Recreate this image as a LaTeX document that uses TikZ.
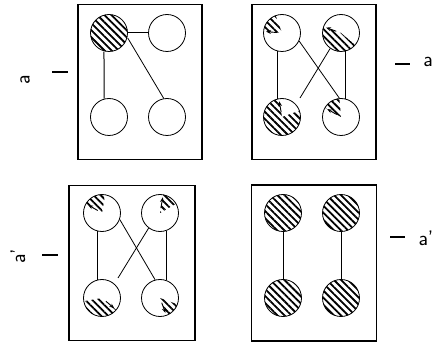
\documentclass[tikz,border=0pt]{standalone}
\usepackage{tikz}
\usetikzlibrary{
  arrows.meta,
  patterns.meta,
  positioning
}
\tikzset{
  pane/.style={draw, line width=1.6pt},
  disc/.style={draw, circle, minimum size=37pt, inner sep=0pt, line width=0.8pt},
  hatched/.style={disc, pattern={Lines[angle=-45, distance=5pt, line width=1.8pt]}},
  parthatch/.style 2 args={disc, path picture={
      \fill[pattern={Lines[angle=-45, distance=5pt, line width=1.8pt]}]
        (path picture bounding box.center) -- ++(#1:20pt)
        arc[start angle=#1, end angle=#2, radius=20pt] -- cycle;
      \draw[line width=0.9pt, -{Stealth[length=5pt]}]
        (path picture bounding box.center) ++(#2:5pt) -- ++(#2:11pt);}},
  link/.style={line width=1pt},
  crossing/.style={line width=0.8pt},
  tagline/.style={line width=1.3pt},
  tag/.style={font=\sffamily\fontsize{21}{21}\selectfont, inner sep=1pt}
}
\begin{document}
\begin{tikzpicture}[x=1pt, y=-1pt]
  \useasboundingbox (0,0) rectangle (445,342);

  % upper left
  \node[pane, minimum width=124pt, minimum height=155pt] (boxa) at (140,82) {};
  \node[hatched] (a1) at (109,33) {};
  \node[disc] (a2) at (167,33) {};
  \node[disc] (a3) at (109,117) {};
  \node[disc] (a4) at (167,117) {};
  \draw[link] (a1) -- (a2);
  \draw[link] (a1.-105) -- (a3.105);
  \draw[crossing] (a1.-15) -- (a4.100);
  \node[tag, rotate=90] (lbla) at (25,80) {a};
  \draw[tagline] (52,72) -- (68,72);

  % upper right
  \node[pane, minimum width=124pt, minimum height=155pt] (boxb) at (314,82) {};
  \node[parthatch={110}{175}] (b1) at (282,33) {};
  \node[parthatch={320}{160}] (b2) at (341,33) {};
  \node[parthatch={380}{100}] (b3) at (282,117) {};
  \node[parthatch={95}{150}] (b4) at (341,117) {};
  \coordinate (bend) at (300,98);
  \draw[link] (b1.-105) -- (b3.105);
  \draw[link] (b2.-75) -- (b4.75);
  \draw[crossing] (b1.-25) -- (b4.95);
  \draw[crossing] (b2.-125) -- (bend);
  \node[tag] (lblb) at (428,62) {a};
  \draw[tagline] (395,64) -- (410,64);

  % lower left
  \node[pane, minimum width=126pt, minimum height=155pt] (boxc) at (132,263) {};
  \node[parthatch={80}{150}] (c1) at (102,213) {};
  \node[parthatch={30}{80}] (c2) at (160,213) {};
  \node[parthatch={190}{320}] (c3) at (102,298) {};
  \node[parthatch={340}{290}] (c4) at (160,298) {};
  \coordinate (cend) at (118,278);
  \draw[link] (c1.-105) -- (c3.105);
  \draw[link] (c2.-70) -- (c4.70);
  \draw[crossing] (c1.-20) -- (c4.105);
  \draw[crossing] (c2.-127) -- (cend);
  \node[tag, rotate=90] (lblc) at (18,256) {a'};
  \draw[tagline] (42,255) -- (58,255);

  % lower right
  \node[pane, minimum width=125pt, minimum height=156pt] (boxd) at (314,263) {};
  \node[hatched] (d1) at (283,213) {};
  \node[hatched] (d2) at (341,213) {};
  \node[hatched] (d3) at (283,298) {};
  \node[hatched] (d4) at (341,298) {};
  \draw[link] (d1) -- (d3);
  \draw[link] (d2) -- (d4);
  \node[tag] (lbld) at (426,238) {a'};
  \draw[tagline] (390,237) -- (405,237);
\end{tikzpicture}
\end{document}
